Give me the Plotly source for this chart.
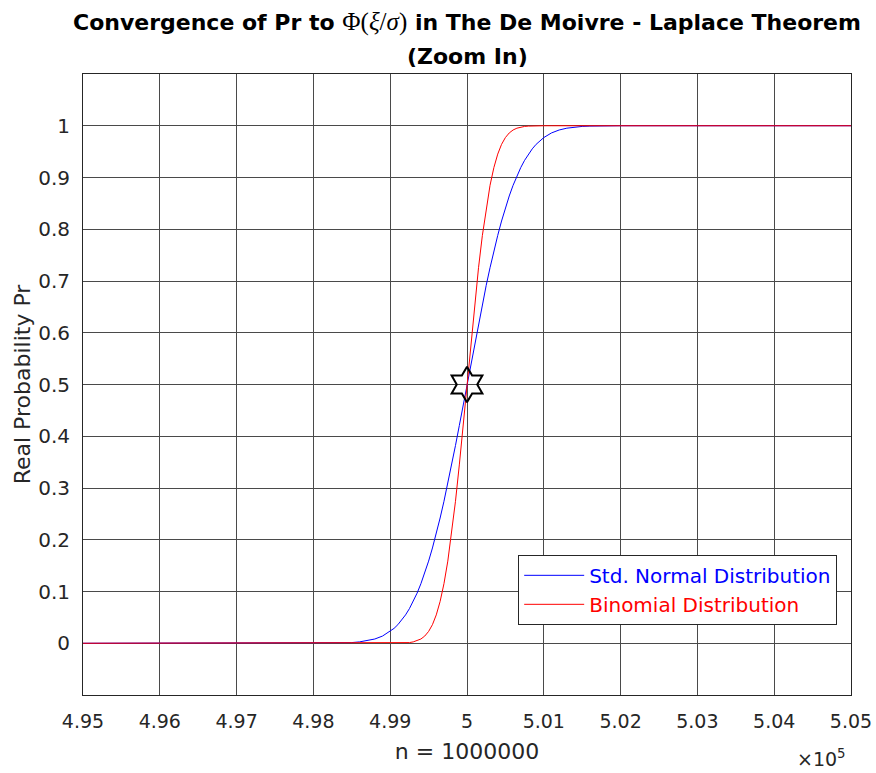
import plotly.graph_objects as go

# x positions (number of successes) at which the curves were read
n_vals = [495000, 496000, 497000, 497500, 498000, 498100, 498200, 498300, 498400, 498500, 498600, 498700,
          498800, 498900, 499000, 499050, 499100, 499150, 499200, 499250, 499300, 499350,
          499400, 499450, 499500, 499550, 499600, 499650, 499700, 499750, 499800, 499850,
          499900, 499950, 500000, 500050, 500100, 500150, 500200, 500250, 500300, 500350,
          500400, 500450, 500500, 500550, 500600, 500650, 500700, 500750, 500800, 500850,
          500900, 500950, 501000, 501100, 501200, 501300, 501400, 501500, 501600, 501700,
          501800, 501900, 502000, 502500, 503000, 504000, 505000]

normal_pr = [0.0, 0.0, 0.0, 0.0, 0.0, 0.0001, 0.0002, 0.0003, 0.0007, 0.0013, 0.0026, 0.0047,
             0.0082, 0.0139, 0.0228, 0.0287, 0.0359, 0.0446, 0.0548, 0.0668, 0.0808, 0.0968,
             0.1151, 0.1357, 0.1587, 0.1841, 0.2119, 0.2420, 0.2743, 0.3085, 0.3446, 0.3821,
             0.4207, 0.4602, 0.5, 0.5398, 0.5793, 0.6179, 0.6554, 0.6915, 0.7257, 0.7580,
             0.7881, 0.8159, 0.8413, 0.8643, 0.8849, 0.9032, 0.9192, 0.9332, 0.9452, 0.9554,
             0.9641, 0.9713, 0.9772, 0.9861, 0.9918, 0.9953, 0.9974, 0.9987, 0.9993, 0.9997,
             0.9998, 0.9999, 1.0, 1.0, 1.0, 1.0, 1.0]

binomial_pr = [0.0, 0.0, 0.0, 0.0, 0.0, 0.0, 0.0, 0.0, 0.0, 0.0, 0.0, 0.0,
               0.0, 0.0, 0.0, 0.0001, 0.0002, 0.0003, 0.0007, 0.0013, 0.0026, 0.0047,
               0.0082, 0.0139, 0.0228, 0.0359, 0.0548, 0.0808, 0.1151, 0.1587, 0.2119, 0.2743,
               0.3446, 0.4207, 0.5, 0.5793, 0.6554, 0.7257, 0.7881, 0.8413, 0.8849, 0.9192,
               0.9452, 0.9641, 0.9772, 0.9861, 0.9918, 0.9953, 0.9974, 0.9987, 0.9993, 0.9997,
               0.9998, 0.9999, 1.0, 1.0, 1.0, 1.0, 1.0, 1.0, 1.0, 1.0,
               1.0, 1.0, 1.0, 1.0, 1.0, 1.0, 1.0]

center_n = [500000]
center_pr = [0.5]

x_tickvals = [495000, 496000, 497000, 498000, 499000, 500000, 501000, 502000, 503000, 504000, 505000]
x_ticktext = ["4.95", "4.96", "4.97", "4.98", "4.99", "5", "5.01", "5.02", "5.03", "5.04", "5.05"]
y_tickvals = [0, 0.1, 0.2, 0.3, 0.4, 0.5, 0.6, 0.7, 0.8, 0.9, 1]
y_ticktext = ["0", "0.1", "0.2", "0.3", "0.4", "0.5", "0.6", "0.7", "0.8", "0.9", "1"]

FONT = "DejaVu Sans, Verdana, sans-serif"
SERIF = "Liberation Serif, Times New Roman, serif"
TXT = "#262626"
GRID = "#4a4a4a"

fig = go.Figure()
fig.add_trace(go.Scatter(x=n_vals, y=normal_pr, mode="lines",
                         line=dict(color="#0000ff", width=1),
                         name='<span style="color:#0000ff">Std. Normal Distribution</span>'))
fig.add_trace(go.Scatter(x=n_vals, y=binomial_pr, mode="lines",
                         line=dict(color="#ff0000", width=1),
                         name='<span style="color:#ff0000">Binomial Distribution</span>'))
fig.add_trace(go.Scatter(x=center_n, y=center_pr, mode="markers",
                         marker=dict(symbol="hexagram-open", size=27, color="black",
                                     line=dict(color="black", width=2)),
                         showlegend=False))

fig.update_layout(
    width=876, height=773,
    margin=dict(l=83, r=25, t=74, b=78, autoexpand=False),
    paper_bgcolor="white", plot_bgcolor="white",
    font=dict(family=FONT, color=TXT, size=19),
    xaxis=dict(range=[495000, 505000], tickvals=x_tickvals, ticktext=x_ticktext,
               showgrid=True, gridcolor=GRID, gridwidth=1, zeroline=False,
               showline=True, linecolor=TXT, linewidth=1, mirror=True,
               ticks="", ticklabelstandoff=9, tickfont=dict(size=19, color=TXT),
               title=dict(text="n = 1000000", font=dict(size=22, color=TXT), standoff=12)),
    yaxis=dict(range=[-0.1, 1.1], tickvals=y_tickvals, ticktext=y_ticktext,
               showgrid=True, gridcolor=GRID, gridwidth=1, zeroline=False,
               showline=True, linecolor=TXT, linewidth=1, mirror=True,
               ticks="", ticklabelstandoff=8, tickfont=dict(size=20, color=TXT),
               title=dict(text="Real Probability Pr", font=dict(size=22, color=TXT), standoff=1)),
    legend=dict(x=0.982, y=0.113, xanchor="right", yanchor="bottom",
                bgcolor="white", bordercolor=TXT, borderwidth=1, itemwidth=60,
                font=dict(family=FONT, size=20)),
    showlegend=True,
)

# two-line title
fig.add_annotation(x=0.5, y=(695 - 21.5) / 621, xref="paper", yref="paper",
                   xanchor="center", yanchor="middle", showarrow=False,
                   text='<b>Convergence of Pr to </b><span style="font-family:' + SERIF + '; font-size:25px">Φ(<i>ξ</i>/<i>σ</i>)</span><b> in The De Moivre - Laplace Theorem</b>',
                   font=dict(family=FONT, size=22, color="black"))
fig.add_annotation(x=0.5, y=(695 - 56.5) / 621, xref="paper", yref="paper",
                   xanchor="center", yanchor="middle", showarrow=False,
                   text="<b>(Zoom In)</b>",
                   font=dict(family=FONT, size=22, color="black"))

fig.add_annotation(x=(848 - 83) / 768, y=(695 - 772) / 621, xref="paper", yref="paper",
                   xanchor="right", yanchor="bottom", showarrow=False,
                   text="×10<sup>5</sup>",
                   font=dict(family=FONT, size=19, color=TXT))

fig.write_html("out.html")
